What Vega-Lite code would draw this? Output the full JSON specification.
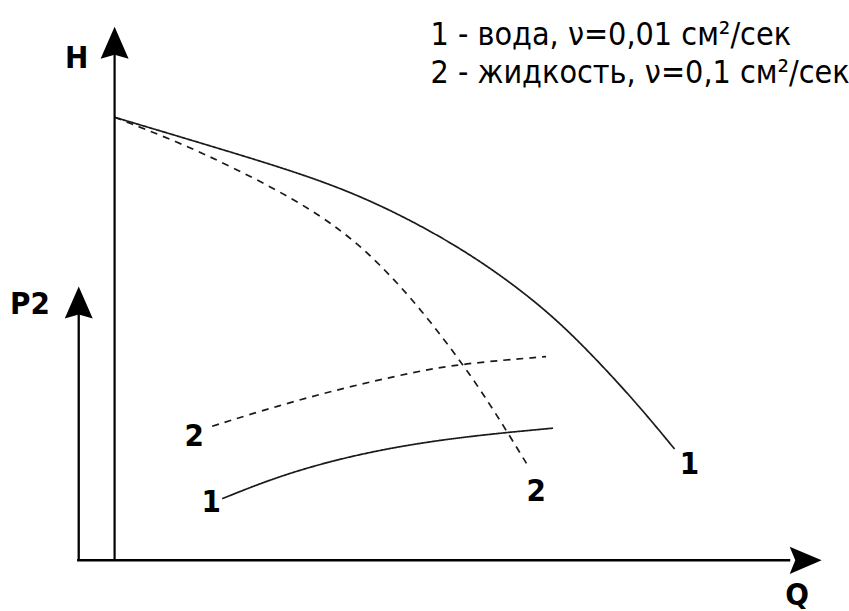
{
  "$schema": "https://vega.github.io/schema/vega-lite/v6.json",
  "width": 849,
  "height": 611,
  "padding": 0,
  "autosize": {"type": "fit", "contains": "padding"},
  "background": "white",
  "config": {"view": {"stroke": null}},
  "datasets": {
    "curves": [
      {"curve": "H1", "style": "solid", "i": 0, "Q": 0, "H": 83.05},
      {"curve": "H1", "style": "solid", "i": 1, "Q": 13.38, "H": 77.75},
      {"curve": "H1", "style": "solid", "i": 2, "Q": 27.46, "H": 72.07},
      {"curve": "H1", "style": "solid", "i": 3, "Q": 37.75, "H": 66.67},
      {"curve": "H1", "style": "solid", "i": 4, "Q": 50.0, "H": 57.91},
      {"curve": "H1", "style": "solid", "i": 5, "Q": 60.85, "H": 47.3},
      {"curve": "H1", "style": "solid", "i": 6, "Q": 67.89, "H": 37.99},
      {"curve": "H1", "style": "solid", "i": 7, "Q": 73.94, "H": 29.24},
      {"curve": "H1", "style": "solid", "i": 8, "Q": 79.15, "H": 20.86},
      {"curve": "H2", "style": "dashed", "i": 0, "Q": 0, "H": 83.05},
      {"curve": "H2", "style": "dashed", "i": 1, "Q": 8.73, "H": 78.55},
      {"curve": "H2", "style": "dashed", "i": 2, "Q": 16.62, "H": 73.74},
      {"curve": "H2", "style": "dashed", "i": 3, "Q": 25.63, "H": 67.54},
      {"curve": "H2", "style": "dashed", "i": 4, "Q": 32.11, "H": 61.88},
      {"curve": "H2", "style": "dashed", "i": 5, "Q": 37.32, "H": 55.81},
      {"curve": "H2", "style": "dashed", "i": 6, "Q": 43.38, "H": 47.0},
      {"curve": "H2", "style": "dashed", "i": 7, "Q": 49.58, "H": 36.11},
      {"curve": "H2", "style": "dashed", "i": 8, "Q": 52.82, "H": 29.68},
      {"curve": "H2", "style": "dashed", "i": 9, "Q": 55.63, "H": 23.8},
      {"curve": "H2", "style": "dashed", "i": 10, "Q": 58.45, "H": 17.65},
      {"curve": "P2_2", "style": "dashed", "i": 0, "Q": 13.8, "H": 25.14},
      {"curve": "P2_2", "style": "dashed", "i": 1, "Q": 23.24, "H": 29.05},
      {"curve": "P2_2", "style": "dashed", "i": 2, "Q": 32.68, "H": 32.4},
      {"curve": "P2_2", "style": "dashed", "i": 3, "Q": 41.97, "H": 35.2},
      {"curve": "P2_2", "style": "dashed", "i": 4, "Q": 49.01, "H": 36.87},
      {"curve": "P2_2", "style": "dashed", "i": 5, "Q": 60.99, "H": 38.18},
      {"curve": "P2_1", "style": "solid", "i": 0, "Q": 15.21, "H": 11.55},
      {"curve": "P2_1", "style": "solid", "i": 1, "Q": 23.24, "H": 15.83},
      {"curve": "P2_1", "style": "solid", "i": 2, "Q": 32.68, "H": 19.37},
      {"curve": "P2_1", "style": "solid", "i": 3, "Q": 41.97, "H": 21.79},
      {"curve": "P2_1", "style": "solid", "i": 4, "Q": 51.41, "H": 23.46},
      {"curve": "P2_1", "style": "solid", "i": 5, "Q": 61.97, "H": 24.77}
    ],
    "axes": [
      {"axis": "H", "Q": 0, "H": 0, "Q2": 0, "H2": 95},
      {"axis": "P2", "Q": -5.07, "H": 0, "Q2": -5.07, "H2": 46.5},
      {"axis": "Q", "Q": -5.3, "H": 0, "Q2": 95.5, "H2": 0}
    ],
    "arrows": [
      {"dir": "up", "Q": 0, "H": 97.02},
      {"dir": "up", "Q": -5.07, "H": 48.32},
      {"dir": "right", "Q": 97.68, "H": 0}
    ],
    "axisLabels": [
      {"label": "H", "Q": -5.35, "H": 94.04},
      {"label": "P2", "Q": -11.97, "H": 47.86},
      {"label": "Q", "Q": 96.48, "H": -6.6}
    ],
    "curveLabels": [
      {"label": "2", "Q": 11.27, "H": 23.09},
      {"label": "1", "Q": 13.66, "H": 10.8},
      {"label": "2", "Q": 59.58, "H": 12.85},
      {"label": "1", "Q": 81.27, "H": 17.88}
    ],
    "legend": [
      {"label": "1 - вода, ν=0,01 см²/сек", "Q": 44.65, "H": 98.51},
      {"label": "2 - жидкость, ν=0,1 см²/сек", "Q": 44.65, "H": 91.43}
    ]
  },
  "layer": [
    {
      "data": {"name": "curves"},
      "mark": {"type": "line", "interpolate": "basis", "color": "#1a1a1a", "strokeWidth": 1.7},
      "encoding": {
        "x": {"field": "Q", "type": "quantitative", "scale": {"domain": [-16.197, 103.38], "nice": false, "zero": false}, "axis": null},
        "y": {"field": "H", "type": "quantitative", "scale": {"domain": [-8.752, 105.03], "nice": false, "zero": false}, "axis": null},
        "detail": {"field": "curve", "type": "nominal"},
        "order": {"field": "i", "type": "quantitative"},
        "strokeDash": {"field": "style", "type": "nominal", "scale": {"domain": ["solid", "dashed"], "range": [[1, 0], [7, 6]]}, "legend": null}
      }
    },
    {
      "data": {"name": "axes"},
      "mark": {"type": "rule", "color": "#000"},
      "encoding": {
        "x": {"field": "Q", "type": "quantitative"},
        "y": {"field": "H", "type": "quantitative"},
        "x2": {"field": "Q2"},
        "y2": {"field": "H2"},
        "strokeWidth": {"field": "axis", "type": "nominal", "scale": {"domain": ["H", "P2", "Q"], "range": [2.2, 2.4, 3.6]}, "legend": null}
      }
    },
    {
      "data": {"name": "arrows"},
      "mark": {"type": "point", "filled": true, "color": "#000", "opacity": 1, "size": 1024, "strokeWidth": 0},
      "encoding": {
        "x": {"field": "Q", "type": "quantitative"},
        "y": {"field": "H", "type": "quantitative"},
        "shape": {"field": "dir", "type": "nominal", "scale": {"domain": ["up", "right"], "range": ["M0,-1L0.875,1L0,0.75L-0.875,1Z", "M1,0L-1,0.85L-0.65,0L-1,-0.85Z"]}, "legend": null}
      }
    },
    {
      "data": {"name": "axisLabels"},
      "mark": {"type": "text", "font": "DejaVu Sans Condensed, sans-serif", "fontSize": 31, "fontWeight": "bold", "align": "center", "baseline": "middle", "color": "#000"},
      "encoding": {
        "x": {"field": "Q", "type": "quantitative"},
        "y": {"field": "H", "type": "quantitative"},
        "text": {"field": "label", "type": "nominal"}
      }
    },
    {
      "data": {"name": "curveLabels"},
      "mark": {"type": "text", "font": "DejaVu Sans Condensed, sans-serif", "fontSize": 31, "fontWeight": "bold", "align": "center", "baseline": "middle", "color": "#000"},
      "encoding": {
        "x": {"field": "Q", "type": "quantitative"},
        "y": {"field": "H", "type": "quantitative"},
        "text": {"field": "label", "type": "nominal"}
      }
    },
    {
      "data": {"name": "legend"},
      "mark": {"type": "text", "font": "DejaVu Sans Condensed, sans-serif", "fontSize": 32, "align": "left", "baseline": "middle", "color": "#000"},
      "encoding": {
        "x": {"field": "Q", "type": "quantitative"},
        "y": {"field": "H", "type": "quantitative"},
        "text": {"field": "label", "type": "nominal"}
      }
    }
  ]
}
